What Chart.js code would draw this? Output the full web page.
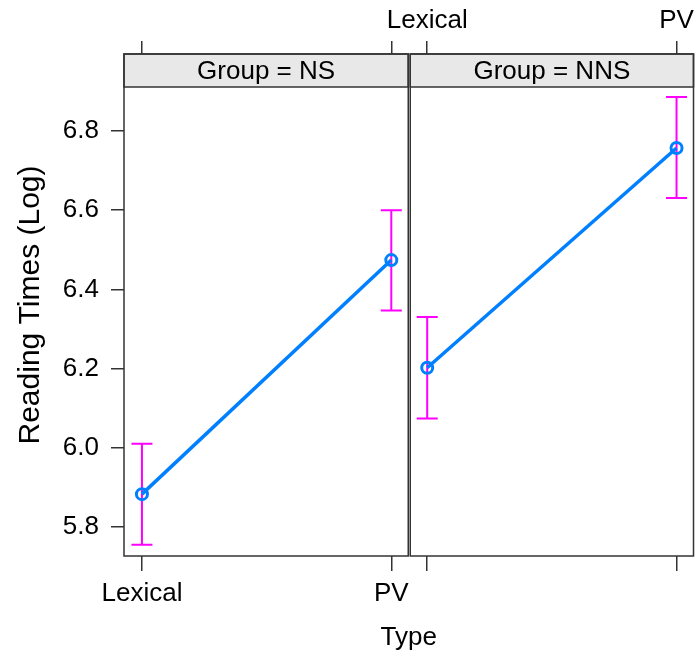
<!DOCTYPE html>
<html>
<head>
<meta charset="utf-8">
<script src="https://cdn.jsdelivr.net/npm/chart.js@4.4.1/dist/chart.umd.min.js"></script>
<style>
    html, body { margin: 0; padding: 0; background: #fff; overflow: hidden; }
    #wrap { width: 697px; height: 654px; overflow: hidden; }
    #effects { display: block; }
</style>
</head>
<body>
<div id="wrap"><canvas id="effects" width="702" height="654"></canvas></div>
<script>
// Type effect on log reading times, one panel per group
const typeLabels = ['Lexical', 'PV'];
const groupNames = ['NS', 'NNS'];

const nsFit = [5.883, 6.474];
const nsLower = [5.755, 6.347];
const nsUpper = [6.010, 6.600];

const nnsFit = [6.202, 6.757];
const nnsLower = [6.074, 6.631];
const nnsUpper = [6.330, 6.886];

const yTicks = [5.8, 6.0, 6.2, 6.4, 6.6, 6.8];

// both panels share one linear x scale, the second one shifted right
const panelShift = 1.144;
const panelSplit = 1.072;
const xMin = -0.072;
const xMax = 2.212;

const fontFamily = '"Liberation Sans", Arial, Helvetica, sans-serif';
const frameColor = '#333333';
const lineBlue = '#0080ff';
const barMagenta = '#ff00ff';
const stripHeight = 33;

const toPoints = (fit, shift) => fit.map((v, i) => ({ x: i + shift, y: v }));

const bars = [
    { shift: 0, lower: nsLower, upper: nsUpper },
    { shift: panelShift, lower: nnsLower, upper: nnsUpper }
];

const xTickValues = [0, 1, panelShift, 1 + panelShift];

const errorBars = {
    id: 'errorBars',
    beforeDatasetsDraw(chart) {
        const { ctx, scales: { x, y } } = chart;
        ctx.save();
        ctx.strokeStyle = barMagenta;
        ctx.lineWidth = 2;
        bars.forEach(b => {
            b.lower.forEach((lo, i) => {
                const px = x.getPixelForValue(i + b.shift);
                const top = y.getPixelForValue(b.upper[i]);
                const bot = y.getPixelForValue(lo);
                ctx.beginPath();
                ctx.moveTo(px, top);
                ctx.lineTo(px, bot);
                ctx.moveTo(px - 10.5, top);
                ctx.lineTo(px + 10.5, top);
                ctx.moveTo(px - 10.5, bot);
                ctx.lineTo(px + 10.5, bot);
                ctx.stroke();
            });
        });
        ctx.restore();
    }
};

// panel frames and the "Group = ..." strips
const panels = {
    id: 'panels',
    afterDraw(chart) {
        const { ctx, chartArea, scales: { x } } = chart;
        const mid = x.getPixelForValue(panelSplit);
        const boxes = [
            [chartArea.left, mid - 1],
            [mid + 1, chartArea.right]
        ];
        ctx.save();
        boxes.forEach(([l, r], i) => {
            const t = chartArea.top;
            ctx.fillStyle = '#e8e8e8';
            ctx.fillRect(l, t, r - l, stripHeight);
            ctx.strokeStyle = frameColor;
            ctx.lineWidth = 1.5;
            ctx.strokeRect(l, t, r - l, stripHeight);
            ctx.strokeRect(l, t, r - l, chartArea.bottom - t);
            ctx.fillStyle = '#000';
            ctx.font = '26px ' + fontFamily;
            ctx.textAlign = 'center';
            ctx.textBaseline = 'middle';
            ctx.fillText('Group = ' + groupNames[i], (l + r) / 2, t + stripHeight / 2 + 1);
        });
        ctx.restore();
    }
};

const tickFont = { family: fontFamily, size: 26 };
const tickGrid = (len) => ({
    drawOnChartArea: false,
    drawTicks: true,
    tickLength: len,
    color: frameColor,
    lineWidth: 1.5
});

const lineStyle = {
    borderColor: lineBlue,
    borderWidth: 3.5,
    pointRadius: 5.5,
    pointBorderWidth: 3,
    pointBackgroundColor: 'rgba(0,0,0,0)',
    pointBorderColor: lineBlue
};

const config = {
    type: 'line',
    data: {
        datasets: [
            Object.assign({ label: groupNames[0], data: toPoints(nsFit, 0) }, lineStyle),
            Object.assign({ label: groupNames[1], data: toPoints(nnsFit, panelShift) }, lineStyle)
        ]
    },
    options: {
        responsive: false,
        animation: false,
        events: [],
        layout: { padding: { left: 0, right: 2, top: 0, bottom: 0 } },
        plugins: {
            legend: { display: false },
            tooltip: { enabled: false }
        },
        scales: {
            x: {
                type: 'linear',
                position: 'bottom',
                min: xMin,
                max: xMax,
                afterBuildTicks: (scale) => { scale.ticks = xTickValues.map(v => ({ value: v })); },
                afterFit: (scale) => { scale.height = 98; scale.paddingLeft = 0; scale.paddingRight = 0; },
                grid: tickGrid(15),
                border: { display: false },
                ticks: {
                    autoSkip: false,
                    maxRotation: 0,
                    padding: 7,
                    color: '#000',
                    font: tickFont,
                    callback: (value, index) => index < 2 ? typeLabels[index] : ''
                },
                title: {
                    display: true,
                    text: 'Type',
                    color: '#000',
                    font: tickFont,
                    padding: { top: 0, bottom: 1 }
                }
            },
            x2: {
                type: 'linear',
                position: 'top',
                min: xMin,
                max: xMax,
                afterBuildTicks: (scale) => { scale.ticks = xTickValues.map(v => ({ value: v })); },
                afterFit: (scale) => { scale.height = 54; scale.paddingLeft = 0; scale.paddingRight = 0; },
                grid: tickGrid(13),
                border: { display: false },
                ticks: {
                    autoSkip: false,
                    maxRotation: 0,
                    padding: 5,
                    color: '#000',
                    font: tickFont,
                    callback: (value, index) => index >= 2 ? typeLabels[index - 2] : ''
                }
            },
            y: {
                type: 'linear',
                position: 'left',
                min: 5.7268,
                max: 6.9944,
                afterBuildTicks: (scale) => { scale.ticks = yTicks.map(v => ({ value: v })); },
                afterFit: (scale) => { scale.width = 124; scale.paddingTop = 0; scale.paddingBottom = 0; },
                grid: tickGrid(13),
                border: { display: false },
                ticks: {
                    padding: 12,
                    color: '#000',
                    font: tickFont,
                    callback: (value) => value.toFixed(1)
                },
                title: {
                    display: true,
                    text: 'Reading Times (Log)',
                    color: '#000',
                    font: { family: fontFamily, size: 30 },
                    padding: { top: 13, bottom: 0 }
                }
            }
        }
    },
    plugins: [errorBars, panels]
};

new Chart(document.getElementById('effects'), config);
</script>
</body>
</html>
